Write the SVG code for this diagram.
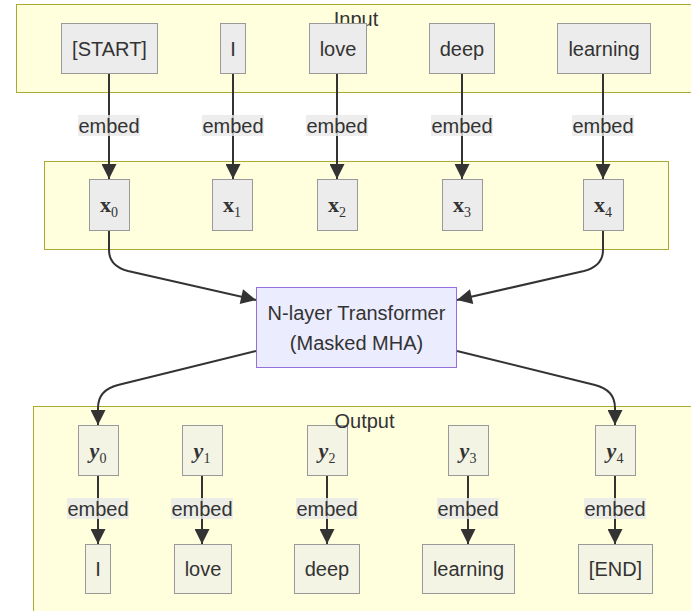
<svg xmlns="http://www.w3.org/2000/svg" width="691" height="611" viewBox="0 0 691 611">
  <style>
    .cluster { fill: #FFFFDE; stroke: #AAAA33; stroke-width: 1; }
    .cluster-label { font-family: "Liberation Sans", Arial, sans-serif; font-size: 20px; fill: #333333; text-anchor: middle; }
    .node rect { fill: #ECECEC; stroke: #999999; stroke-width: 1; }
    .out rect { fill: #F4F4E5; stroke: #999999; stroke-width: 1; }
    .node text, .out text { font-family: "Liberation Sans", Arial, sans-serif; font-size: 20px; fill: #333333; text-anchor: middle; }
    .node text.math, .out text.math { font-family: "Liberation Serif", "Times New Roman", serif; font-size: 22px; font-weight: bold; fill: #333333; text-anchor: middle; }
    .out text.math { font-style: italic; }
    .math tspan.sub { font-size: 14px; font-weight: normal; font-style: normal; }
    .edge { fill: none; stroke: #333333; stroke-width: 2; marker-end: url(#arrow); }
    .edge-label rect { fill: rgba(232,232,232,0.8); }
    .edge-label text { font-family: "Liberation Sans", Arial, sans-serif; font-size: 20px; fill: #333333; text-anchor: middle; }
    .transformer rect { fill: #ECECFF; stroke: #9370DB; stroke-width: 1; }
    .transformer text { font-family: "Liberation Sans", Arial, sans-serif; font-size: 20px; fill: #333333; text-anchor: middle; }
  </style>
  <defs>
    <marker id="arrow" viewBox="0 0 10 10" refX="10" refY="5" markerUnits="userSpaceOnUse" markerWidth="16" markerHeight="15" orient="auto">
      <path d="M0,0 L10,5 L0,10 z" fill="#333333"/>
    </marker>
  </defs>

  <rect width="691" height="611" fill="#FFFFFF"/>

  <!-- subgraph frames -->
  <g id="cluster-input">
    <rect class="cluster" x="16.5" y="4.5" width="690" height="88"/>
    <text class="cluster-label" x="356" y="26">Input</text>
  </g>
  <g id="cluster-embeddings">
    <rect class="cluster" x="44.5" y="161.5" width="624" height="88"/>
  </g>
  <g id="cluster-output">
    <rect class="cluster" x="33.5" y="406.5" width="670" height="230"/>
  </g>

  <!-- connectors -->
  <g id="connectors">
    <path class="edge" d="M109,73 V179"/>
    <path class="edge" d="M233,73 V179"/>
    <path class="edge" d="M337,73 V179"/>
    <path class="edge" d="M462,73 V179"/>
    <path class="edge" d="M603,73 V179"/>

    <path class="edge" d="M109,230 L109,250 Q109,266 128,271 L256,300"/>
    <path class="edge" d="M603,230 L603,250 Q603,266 584,271 L457,300"/>

    <path class="edge" d="M256,351 L118,385 Q98,390 98,408 L98,425"/>
    <path class="edge" d="M457,351 L595,385 Q615,390 615,408 L615,425"/>

    <path class="edge" d="M98,475 V544"/>
    <path class="edge" d="M202,475 V544"/>
    <path class="edge" d="M327,475 V544"/>
    <path class="edge" d="M468,475 V544"/>
    <path class="edge" d="M615,475 V544"/>

    <g class="edge-label"><rect x="78" y="115" width="62" height="21"/><text x="109" y="133">embed</text></g>
    <g class="edge-label"><rect x="202" y="115" width="62" height="21"/><text x="233" y="133">embed</text></g>
    <g class="edge-label"><rect x="306" y="115" width="62" height="21"/><text x="337" y="133">embed</text></g>
    <g class="edge-label"><rect x="431" y="115" width="62" height="21"/><text x="462" y="133">embed</text></g>
    <g class="edge-label"><rect x="572" y="115" width="62" height="21"/><text x="603" y="133">embed</text></g>

    <g class="edge-label"><rect x="67" y="498" width="62" height="21"/><text x="98" y="516">embed</text></g>
    <g class="edge-label"><rect x="171" y="498" width="62" height="21"/><text x="202" y="516">embed</text></g>
    <g class="edge-label"><rect x="296" y="498" width="62" height="21"/><text x="327" y="516">embed</text></g>
    <g class="edge-label"><rect x="437" y="498" width="62" height="21"/><text x="468" y="516">embed</text></g>
    <g class="edge-label"><rect x="584" y="498" width="62" height="21"/><text x="615" y="516">embed</text></g>
  </g>

  <!-- input tokens -->
  <g id="in-start" class="node"><rect x="61.5" y="23.5" width="96" height="50"/><text x="109.5" y="56">[START]</text></g>
  <g id="in-i" class="node"><rect x="220.5" y="23.5" width="25" height="50"/><text x="233" y="56">I</text></g>
  <g id="in-love" class="node"><rect x="309.5" y="23.5" width="57" height="50"/><text x="338" y="56">love</text></g>
  <g id="in-deep" class="node"><rect x="429.5" y="23.5" width="65" height="50"/><text x="462" y="56">deep</text></g>
  <g id="in-learning" class="node"><rect x="557.5" y="23.5" width="93" height="50"/><text x="604" y="56">learning</text></g>

  <!-- embedding vectors -->
  <g id="x0" class="node"><rect x="89.5" y="179.5" width="40" height="51"/><text class="math" x="109" y="212">x<tspan class="sub" dy="5">0</tspan></text></g>
  <g id="x1" class="node"><rect x="212.5" y="179.5" width="40" height="51"/><text class="math" x="232" y="212">x<tspan class="sub" dy="5">1</tspan></text></g>
  <g id="x2" class="node"><rect x="317.5" y="179.5" width="40" height="51"/><text class="math" x="337" y="212">x<tspan class="sub" dy="5">2</tspan></text></g>
  <g id="x3" class="node"><rect x="442.5" y="179.5" width="40" height="51"/><text class="math" x="462" y="212">x<tspan class="sub" dy="5">3</tspan></text></g>
  <g id="x4" class="node"><rect x="583.5" y="179.5" width="40" height="51"/><text class="math" x="603" y="212">x<tspan class="sub" dy="5">4</tspan></text></g>

  <!-- decoder -->
  <g id="transformer" class="transformer">
    <rect x="256.5" y="287.5" width="200" height="80"/>
    <text x="356.5" y="320">N-layer Transformer</text>
    <text x="356.5" y="350">(Masked MHA)</text>
  </g>

  <!-- output vectors -->
  <g id="y0" class="out"><rect x="78.5" y="425.5" width="40" height="50"/><text class="math" x="98" y="458">y<tspan class="sub" dy="5">0</tspan></text></g>
  <g id="y1" class="out"><rect x="182.5" y="425.5" width="40" height="50"/><text class="math" x="202" y="458">y<tspan class="sub" dy="5">1</tspan></text></g>
  <g id="y2" class="out"><rect x="307.5" y="425.5" width="40" height="50"/><text class="math" x="327" y="458">y<tspan class="sub" dy="5">2</tspan></text></g>
  <g id="y3" class="out"><rect x="448.5" y="425.5" width="40" height="50"/><text class="math" x="468" y="458">y<tspan class="sub" dy="5">3</tspan></text></g>
  <g id="y4" class="out"><rect x="595.5" y="425.5" width="40" height="50"/><text class="math" x="615" y="458">y<tspan class="sub" dy="5">4</tspan></text></g>

  <!-- output tokens -->
  <g id="out-i" class="out"><rect x="85.5" y="544.5" width="25" height="49"/><text x="98" y="576">I</text></g>
  <g id="out-love" class="out"><rect x="174.5" y="544.5" width="57" height="49"/><text x="203" y="576">love</text></g>
  <g id="out-deep" class="out"><rect x="294.5" y="544.5" width="65" height="49"/><text x="327" y="576">deep</text></g>
  <g id="out-learning" class="out"><rect x="422.5" y="544.5" width="92" height="49"/><text x="468.5" y="576">learning</text></g>
  <g id="out-end" class="out"><rect x="578.5" y="544.5" width="74" height="49"/><text x="615.5" y="576">[END]</text></g>

  <text class="cluster-label" x="364.5" y="428">Output</text>
</svg>
